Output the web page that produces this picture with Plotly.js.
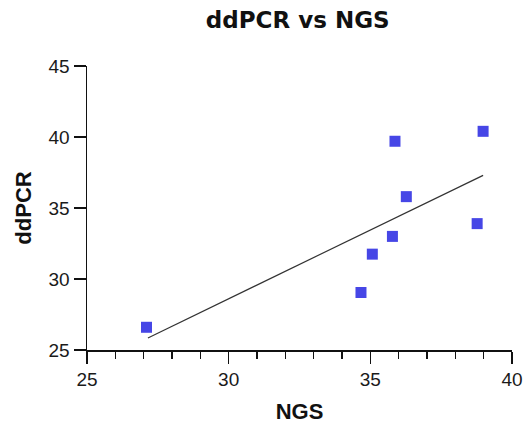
<!DOCTYPE html>
<html>
<head>
<meta charset="utf-8">
<script src="https://cdn.plot.ly/plotly-3.0.1.min.js"></script>
<style>html,body{margin:0;padding:0;background:#fff;}#chart{width:526px;height:430px;}</style>
</head>
<body>
<div id="chart"></div>
<script>
// Data
const ngs   = [27.1, 35.87, 38.98, 36.27, 38.77, 35.78, 35.07, 34.67];
const ddpcr = [26.6, 39.7, 40.4, 35.8, 33.9, 33.0, 31.75, 29.05];
// Fitted line endpoints (as drawn)
const fitX = [27.15, 38.98];
const fitY = [25.85, 37.3];

const xTicks = [25, 30, 35, 40];
const yTicks = [25, 30, 35, 40, 45];

const tickFont = {family: 'Liberation Sans, Arial, sans-serif', size: 19, color: '#1a1a1a'};
const titleFont = {family: 'Liberation Sans, Arial, sans-serif', size: 22, color: '#111', weight: 'bold'};

const traces = [
  {
    x: fitX, y: fitY, type: 'scatter', mode: 'lines',
    line: {color: '#333', width: 1.2}, hoverinfo: 'skip', showlegend: false
  },
  {
    x: ngs, y: ddpcr, type: 'scatter', mode: 'markers',
    marker: {symbol: 'square', size: 11, color: '#4646e6', line: {width: 0}},
    showlegend: false
  }
];

const layout = {
  width: 526, height: 430,
  paper_bgcolor: '#fff', plot_bgcolor: '#fff',
  margin: {l: 87, r: 14, t: 66, b: 80, pad: 0},
  title: {
    text: '<b>ddPCR vs NGS</b>',
    font: {family: 'DejaVu Sans, sans-serif', size: 23, color: '#111'},
    x: 0.566, xref: 'container', xanchor: 'center',
    y: 0.953, yref: 'container', yanchor: 'middle'
  },
  xaxis: {
    range: [25, 40], tickvals: xTicks, ticktext: xTicks.map(String),
    showgrid: false, zeroline: false,
    showline: true, linecolor: '#111', linewidth: 1.5,
    ticks: 'outside', ticklen: 12, tickwidth: 1.5, tickcolor: '#111',
    tickfont: tickFont,
    minor: {dtick: 1, tick0: 25, ticks: 'outside', ticklen: 7, tickwidth: 1.5, tickcolor: '#111', showgrid: false},
    title: {text: 'NGS', font: titleFont, standoff: 14}
  },
  yaxis: {
    range: [25, 45], tickvals: yTicks, ticktext: yTicks.map(String),
    showgrid: false, zeroline: false,
    showline: true, linecolor: '#111', linewidth: 1.5,
    ticks: 'outside', ticklen: 12, tickwidth: 1.5, tickcolor: '#111',
    tickfont: tickFont,
    title: {text: 'ddPCR', font: titleFont, standoff: 11}
  },
  showlegend: false
};

Plotly.newPlot('chart', traces, layout, {displayModeBar: false, staticPlot: true});
</script>
</body>
</html>
